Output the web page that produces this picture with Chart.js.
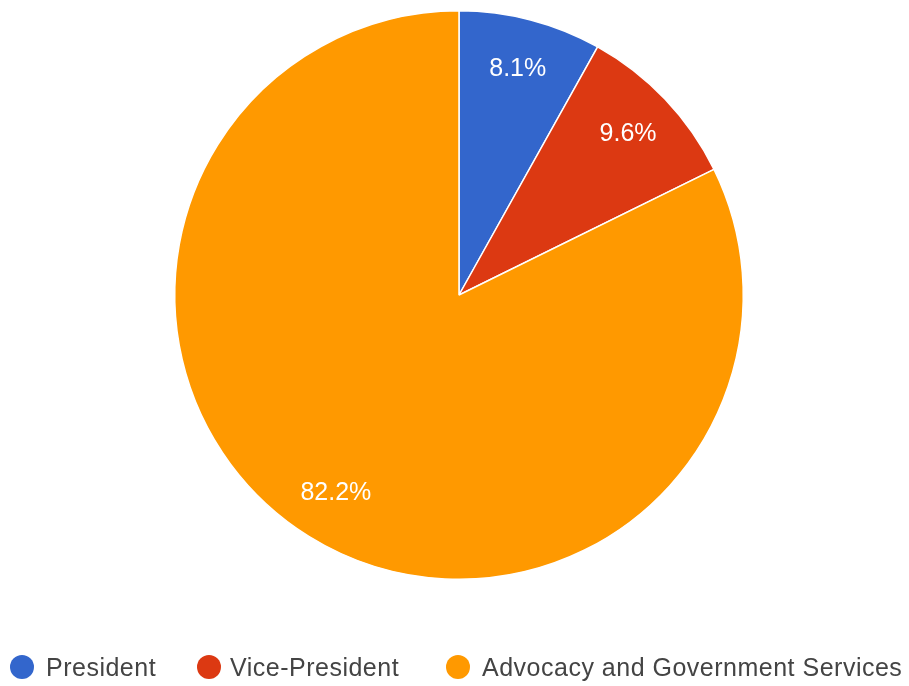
<!DOCTYPE html>
<html>
<head>
<meta charset="utf-8">
<script src="https://cdn.jsdelivr.net/npm/chart.js@4/dist/chart.umd.min.js"></script>
<style>
  html, body { margin: 0; padding: 0; background: #fff; }
  #wrap { position: relative; width: 909px; height: 686px; }
  #legend { position: absolute; left: 0; top: 651px; width: 909px; height: 32px;
            font-family: "Liberation Sans", Arial, sans-serif; font-size: 25px; color: #444;
            letter-spacing: 0.5px; }
  .dot { position: absolute; top: 4px; width: 24px; height: 24px; border-radius: 50%; }
  .txt { position: absolute; top: 0; height: 32px; line-height: 32px; white-space: nowrap; }
</style>
</head>
<body>
<div id="wrap">
  <canvas id="chart" width="909" height="686"></canvas>
  <div id="legend"></div>
</div>
<script>
const labels = ['President', 'Vice-President', 'Advocacy and Government Services'];
const values = [8.1, 9.6, 82.2];
const colors = ['#3366CC', '#DC3912', '#FF9900'];
const legendDotX = [10, 197, 446];
const legendTextX = [46, 230, 482];

const sliceLabels = {
  id: 'sliceLabels',
  afterDatasetsDraw(chart) {
    const ctx = chart.ctx;
    const meta = chart.getDatasetMeta(0);
    ctx.save();
    ctx.font = '25px "Liberation Sans", Arial, sans-serif';
    ctx.fillStyle = '#ffffff';
    ctx.textAlign = 'center';
    ctx.textBaseline = 'middle';
    meta.data.forEach((arc, i) => {
      const p = arc.getProps(['x', 'y', 'startAngle', 'endAngle', 'outerRadius'], true);
      const mid = (p.startAngle + p.endAngle) / 2;
      const r = p.outerRadius * 0.82;
      ctx.fillText(values[i].toFixed(1) + '%', p.x + Math.cos(mid) * r, p.y + Math.sin(mid) * r);
    });
    ctx.restore();
  }
};

new Chart(document.getElementById('chart'), {
  type: 'pie',
  data: {
    labels,
    datasets: [{
      data: values,
      backgroundColor: colors,
      borderColor: '#ffffff',
      borderWidth: 1.5,
    }]
  },
  options: {
    responsive: false,
    animation: false,
    layout: { padding: { top: 10, bottom: 106, left: 174, right: 165 } },
    plugins: {
      legend: { display: false },
      tooltip: { enabled: false }
    }
  },
  plugins: [sliceLabels]
});

document.getElementById('legend').innerHTML = labels.map((l, i) =>
  `<div class="dot" style="left:${legendDotX[i]}px;background:${colors[i]}"></div>` +
  `<div class="txt" style="left:${legendTextX[i]}px">${l}</div>`
).join('');
</script>
</body>
</html>
